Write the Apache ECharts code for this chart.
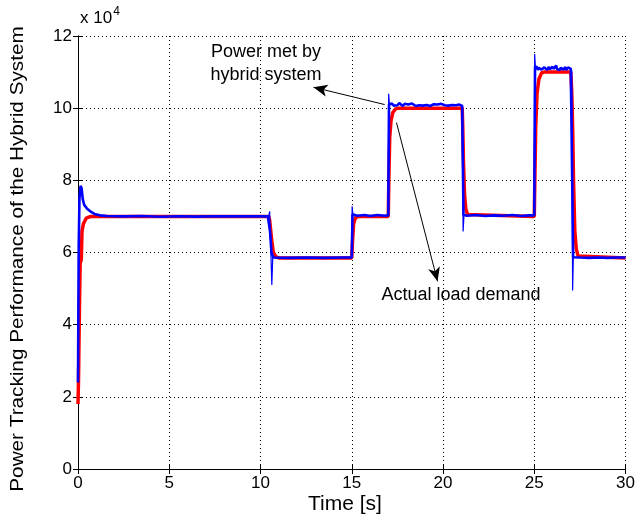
<!DOCTYPE html>
<html>
<head>
<meta charset="utf-8">
<script src="https://cdn.jsdelivr.net/npm/echarts@6/dist/echarts.min.js"></script>
<style>
  html, body { margin: 0; padding: 0; background: #fff; }
  #chart { width: 638px; height: 517px; }
</style>
</head>
<body>
<div id="chart"></div>
<script>
// Axis ticks
const xTicks = [0, 5, 10, 15, 20, 25, 30];
const yTicks = [0, 20000, 40000, 60000, 80000, 100000, 120000];

// Actual load demand [time s, power W]
const loadDemand = [
  [0, 18000], [0.03, 25000], [0.08, 45000], [0.12, 57000], [0.18, 58000], [0.22, 66000],
  [0.3, 68000], [0.45, 69500], [0.7, 70000], [10.45, 70000], [10.5, 69000], [10.6, 64000],
  [10.7, 60000], [10.85, 58800], [11.0, 58500], [15.0, 58500], [15.04, 63000], [15.1, 68000],
  [15.2, 69600], [15.35, 70000], [17.0, 70000], [17.03, 80000], [17.08, 92000], [17.15, 96500],
  [17.25, 98800], [17.4, 99800], [17.55, 100000], [21.05, 100000], [21.08, 95000], [21.12, 85000],
  [21.18, 76000], [21.25, 72000], [21.35, 70500], [21.45, 70000], [25.0, 70000], [25.03, 80000],
  [25.08, 95000], [25.15, 104000], [25.25, 108000], [25.4, 109800], [25.55, 110000], [27.0, 110000],
  [27.05, 105000], [27.1, 95000], [27.15, 80000], [27.22, 66000], [27.3, 61000], [27.4, 59000],
  [27.5, 58500], [30, 58500]
];

// Power met by hybrid system: start-up and 70 kW stretch
const powerMetEarly = [
  [0, 24000], [0.02, 44000], [0.04, 62000], [0.08, 75000], [0.14, 78500], [0.2, 77800],
  [0.26, 74800], [0.34, 73200], [0.5, 72100], [0.7, 71300], [0.9, 70700], [1.2, 70300],
  [1.6, 70100], [2.5, 70000], [3.5, 70100], [4.5, 69900], [5.5, 70050], [6.5, 69950],
  [7.5, 70050], [8.5, 70000], [9.5, 70050], [10.4, 70000], [10.52, 66000], [10.6, 60000],
  [10.7, 58600], [11.5, 58500], [12.5, 58600], [13.5, 58500], [14.5, 58600], [15.0, 58600],
  [15.04, 70600], [15.3, 70200], [15.7, 70400], [16.0, 70100], [16.4, 70400], [16.8, 70200],
  [17.0, 70300], [17.04, 101000]
];
// 100 kW plateau, samples every 0.1 s from 17.1 s
const plateau100 = [
  100900, 101300, 100700, 101100, 100800, 101400, 100900, 100600, 101200, 100800,
  101000, 100700, 101300, 100900, 100600, 101100, 100800, 101200, 100700, 101000,
  100900, 101300, 100600, 100900, 101100, 100800, 101000, 100700, 101200, 100900,
  100800, 101100, 100700, 101000, 100900, 101200, 100800, 100700, 101000, 100900
];
// Middle 70 kW stretch
const powerMetMid = [
  [21.05, 100600], [21.12, 70500], [21.3, 70200], [21.8, 70400], [22.3, 70100], [22.8, 70300],
  [23.3, 70200], [23.8, 70400], [24.3, 70100], [24.7, 70300], [25.0, 70300], [25.04, 111500]
];
// 110 kW plateau, samples every 0.05 s from 25.1 s
const plateau110 = [
  111000, 111400, 110600, 111200, 110800, 111600, 110700, 111100, 110500, 111300,
  110900, 111700, 110600, 111000, 111400, 110800, 111200, 110500, 111500, 110900,
  111100, 110700, 111800, 110800, 111000, 111300, 110600, 111200, 110900, 111500,
  110700, 111100, 111400, 110600, 111000, 111300, 110800, 111200, 110900
];
// Final 58 kW stretch
const powerMetLate = [
  [27.05, 110500], [27.13, 58700], [27.5, 58600], [28.0, 58500], [28.5, 58600], [29.0, 58500],
  [29.5, 58600], [30, 58600]
];
// Fast switching transients (drawn thin)
const transients = [
  [10.45, 70000], [10.5, 71400], [10.55, 63000], [10.62, 51000], [10.67, 58600], [10.7, null],
  [15.0, 58600], [15.02, 72800], [15.06, 70500], [15.1, null],
  [17.0, 70300], [17.02, 104000], [17.06, 101200], [17.1, null],
  [21.05, 100800], [21.1, 65800], [21.15, 70500], [21.2, null],
  [25.0, 70300], [25.02, 115000], [25.06, 111500], [25.1, null],
  [27.05, 110500], [27.1, 49500], [27.14, 58700]
];

function sampled(start, step, values) {
  return values.map((v, i) => [+(start + i * step).toFixed(3), v]);
}

const powerMet = [].concat(
  powerMetEarly,
  sampled(17.1, 0.1, plateau100),
  powerMetMid,
  sampled(25.1, 0.05, plateau110),
  powerMetLate
);

const FONT = 'Liberation Sans';
const chart = echarts.init(document.getElementById('chart'));

const gridLine = { show: true, lineStyle: { color: '#000', width: 1, type: [1, 3] } };
const frameLine = { show: true, lineStyle: { color: '#000', width: 1 } };
const tickIn = { show: true, inside: true, length: 5, lineStyle: { color: '#000' } };

chart.setOption({
  animation: false,
  backgroundColor: '#fff',
  grid: { left: 78, right: 8, top: 36, bottom: 48, containLabel: false },
  xAxis: [
    {
      type: 'value', min: 0, max: 30, interval: 5,
      axisLine: frameLine, axisTick: tickIn, splitLine: gridLine,
      axisLabel: { color: '#000', fontFamily: FONT, fontSize: 17, margin: 6 }
    },
    {
      type: 'value', position: 'top', min: 0, max: 30, interval: 5,
      axisLine: frameLine, axisTick: tickIn, splitLine: { show: false },
      axisLabel: { show: false }
    }
  ],
  yAxis: [
    {
      type: 'value', min: 0, max: 120000, interval: 20000,
      axisLine: frameLine, axisTick: tickIn, splitLine: gridLine,
      axisLabel: {
        color: '#000', fontFamily: FONT, fontSize: 17, margin: 6,
        formatter: v => String(v / 10000)
      }
    },
    {
      type: 'value', position: 'right', min: 0, max: 120000, interval: 20000,
      axisLine: frameLine, axisTick: tickIn, splitLine: { show: false },
      axisLabel: { show: false }
    }
  ],
  series: [
    {
      name: 'Actual load demand', type: 'line', data: loadDemand,
      showSymbol: false, lineStyle: { color: '#ff0000', width: 3.5 }, z: 2
    },
    {
      name: 'Power met by hybrid system', type: 'line', data: powerMet,
      showSymbol: false, lineStyle: { color: '#0000ff', width: 2.6 }, z: 3,
      markLine: {
        silent: true, symbol: ['none', 'arrow'], symbolSize: [9, 14],
        label: { show: false },
        lineStyle: { color: '#000', width: 1, type: 'solid' },
        data: [
          [{ coord: [16.8, 101000] }, { coord: [12.9, 105800] }],
          [{ coord: [17.45, 96000] }, { coord: [19.7, 52000] }]
        ]
      }
    },
    {
      name: 'transients', type: 'line', data: transients, connectNulls: false,
      showSymbol: false, lineStyle: { color: '#0000ff', width: 1.2 }, z: 4
    }
  ],
  graphic: [
    {
      type: 'text', left: 80, top: 6,
      style: {
        text: '{a|x 10}{s|4}', fill: '#000',
        rich: {
          a: { fontFamily: FONT, fontSize: 17, fill: '#000', verticalAlign: 'bottom' },
          s: { fontFamily: FONT, fontSize: 12, fill: '#000', verticalAlign: 'top', padding: [0, 0, 9, 1] }
        }
      }
    },
    {
      type: 'text', x: 266, y: 64,
      style: {
        text: 'Power met by\nhybrid system', fill: '#000', fontFamily: FONT, fontSize: 18,
        align: 'center', verticalAlign: 'middle', lineHeight: 23
      }
    },
    {
      type: 'text', x: 461, y: 295,
      style: {
        text: 'Actual load demand', fill: '#000', fontFamily: FONT, fontSize: 18,
        align: 'center', verticalAlign: 'middle'
      }
    },
    {
      type: 'text', x: 345, y: 504, scaleX: 1.05,
      style: {
        text: 'Time [s]', fill: '#000', fontFamily: FONT, fontSize: 20,
        align: 'center', verticalAlign: 'middle'
      }
    },
    {
      type: 'text', x: 18, y: 259, rotation: Math.PI / 2, scaleX: 1.09,
      style: {
        text: 'Power Tracking Performance of the Hybrid System', fill: '#000',
        fontFamily: FONT, fontSize: 19, align: 'center', verticalAlign: 'middle'
      }
    }
  ]
});
</script>
</body>
</html>
